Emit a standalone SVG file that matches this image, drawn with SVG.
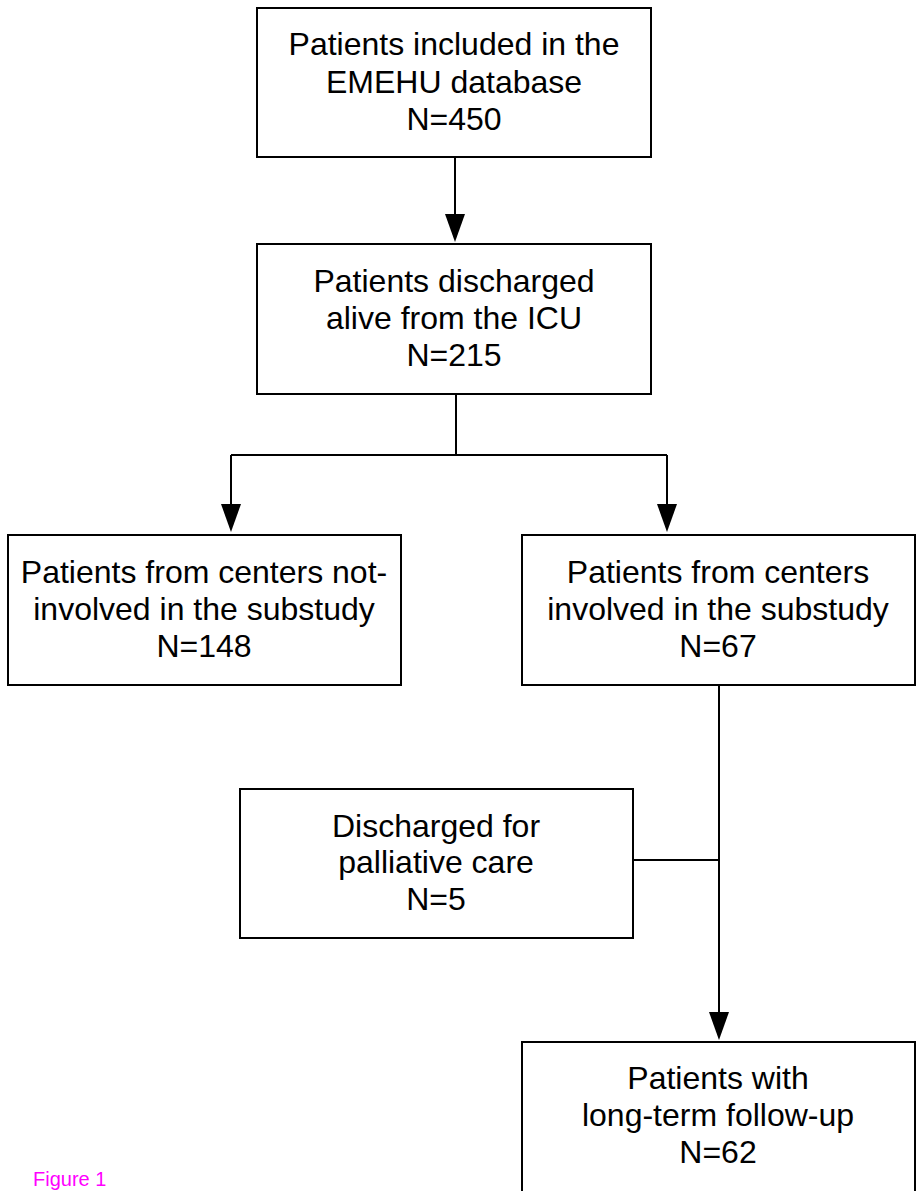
<svg xmlns="http://www.w3.org/2000/svg" width="917" height="1191" viewBox="0 0 917 1191">
<style>
.box{fill:#fff;stroke:#000;stroke-width:2}
.t{font-family:"Liberation Sans",Arial,sans-serif;font-size:32px;fill:#000;text-anchor:middle}
.ln{fill:none;stroke:#000;stroke-width:2}
.fig{font-family:"Liberation Sans",Arial,sans-serif;font-size:20px;fill:#ff00ff}
</style>
<rect width="917" height="1191" fill="#fff"/>
<g id="connectors">
<path class="ln" d="M455,157 V214"/>
<path d="M445,214 L465,214 L455,242 Z"/>
<path class="ln" d="M456,394 V455 M231,455 H667 M231,455 V504 M667,455 V504"/>
<path d="M221,504 L241,504 L231,532 Z"/>
<path d="M657,504 L677,504 L667,532 Z"/>
<path class="ln" d="M719,685 V1012 M633,860 H719"/>
<path d="M709,1012 L729,1012 L719,1040 Z"/>
</g>
<g id="n1">
<rect class="box" x="257" y="8" width="394" height="149"/>
<text class="t" x="454" y="55">Patients included in the</text>
<text class="t" x="454" y="93">EMEHU database</text>
<text class="t" x="454" y="130">N=450</text>
</g>
<g id="n2">
<rect class="box" x="257" y="244" width="394" height="150"/>
<text class="t" x="454" y="292">Patients discharged</text>
<text class="t" x="454" y="329">alive from the ICU</text>
<text class="t" x="454" y="366">N=215</text>
</g>
<g id="n3">
<rect class="box" x="8" y="535" width="393" height="150"/>
<text class="t" x="204" y="583">Patients from centers not-</text>
<text class="t" x="204" y="620">involved in the substudy</text>
<text class="t" x="204" y="657">N=148</text>
</g>
<g id="n4">
<rect class="box" x="522" y="535" width="393" height="150"/>
<text class="t" x="718" y="583">Patients from centers</text>
<text class="t" x="718" y="620">involved in the substudy</text>
<text class="t" x="718" y="657">N=67</text>
</g>
<g id="n5">
<rect class="box" x="240" y="789" width="393" height="149"/>
<text class="t" x="436" y="837">Discharged for</text>
<text class="t" x="436" y="873">palliative care</text>
<text class="t" x="436" y="910">N=5</text>
</g>
<g id="n6">
<rect class="box" x="522" y="1042" width="393" height="160"/>
<text class="t" x="718" y="1089">Patients with</text>
<text class="t" x="718" y="1126">long-term follow-up</text>
<text class="t" x="718" y="1163">N=62</text>
</g>
<text class="fig" x="33" y="1186">Figure 1</text>
</svg>
